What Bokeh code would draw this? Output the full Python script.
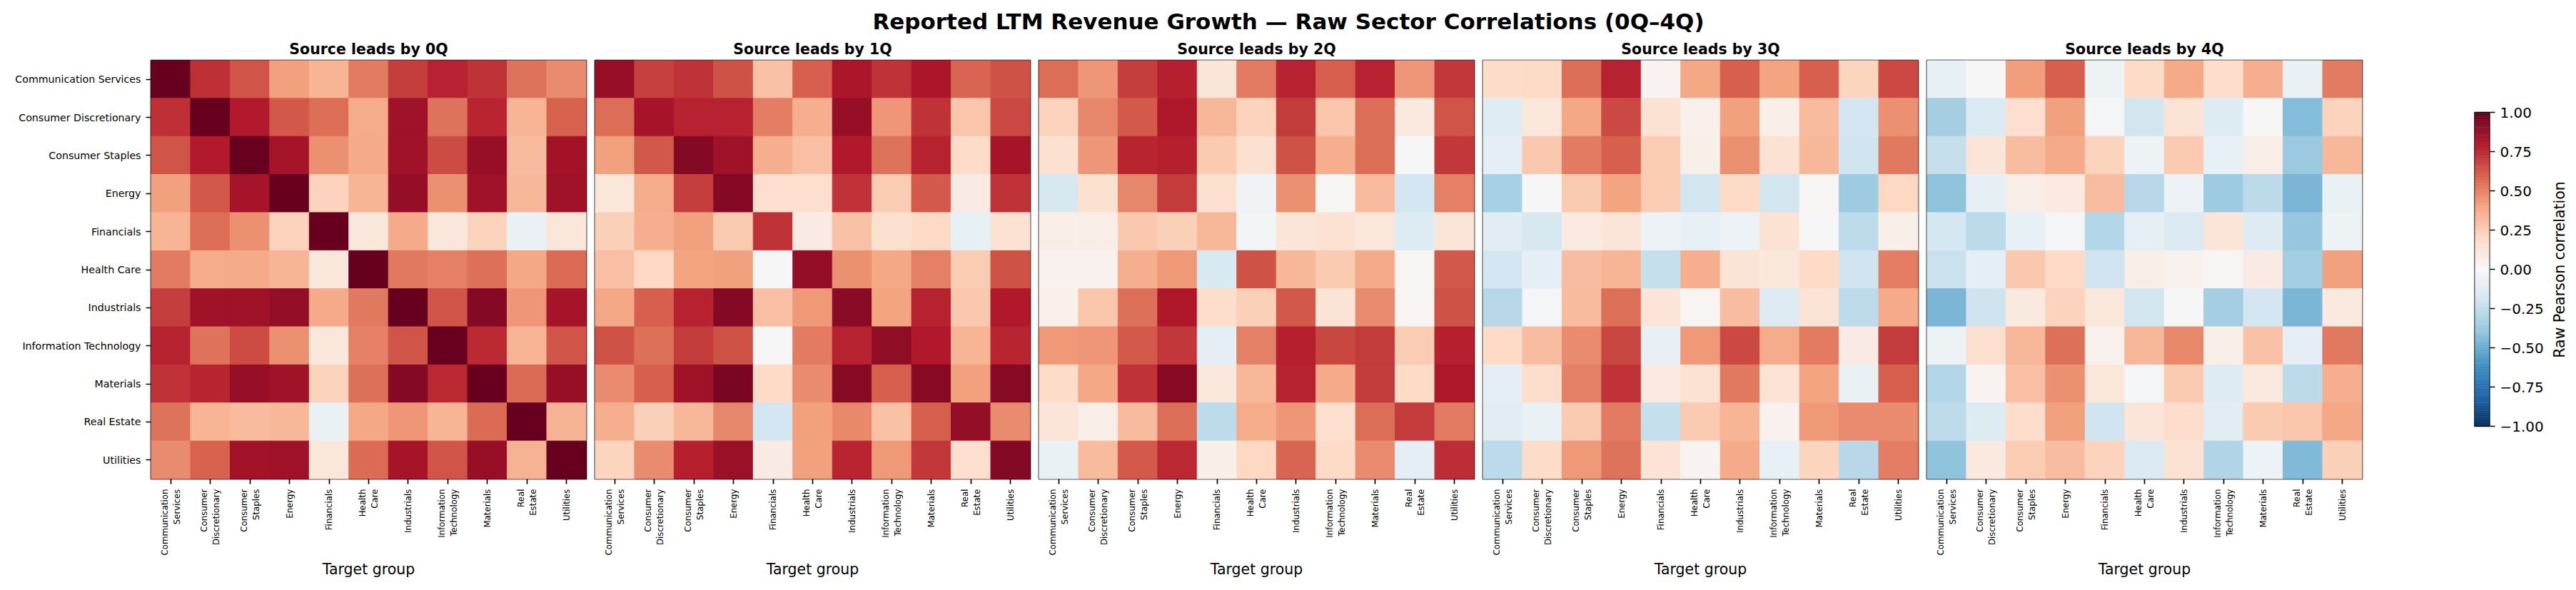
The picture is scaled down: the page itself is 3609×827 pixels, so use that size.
import json
import numpy as np
from bokeh.plotting import figure
from bokeh.models import (FactorRange, Range1d, ColumnDataSource, LinearColorMapper,
                          FixedTicker, CustomJSTickFormatter)
from bokeh.layouts import row, column
from bokeh.transform import transform
from bokeh.core.properties import value
from bokeh.embed import file_html
from bokeh.resources import INLINE

# ---------------------------------------------------------------- data
sectors = [
    "Communication Services", "Consumer Discretionary", "Consumer Staples",
    "Energy", "Financials", "Health Care", "Industrials",
    "Information Technology", "Materials", "Real Estate", "Utilities",
]
sector_tick_labels = [
    "Communication\nServices", "Consumer\nDiscretionary", "Consumer\nStaples",
    "Energy", "Financials", "Health\nCare", "Industrials",
    "Information\nTechnology", "Materials", "Real\nEstate", "Utilities",
]
lead_lags = ["0Q", "1Q", "2Q", "3Q", "4Q"]

# rows = source sector, columns = target sector
corr_0q = [
    [1.00, 0.73, 0.63, 0.41, 0.34, 0.52, 0.69, 0.77, 0.72, 0.54, 0.47],
    [0.73, 1.00, 0.79, 0.62, 0.56, 0.37, 0.85, 0.54, 0.76, 0.34, 0.59],
    [0.63, 0.79, 1.00, 0.83, 0.46, 0.38, 0.85, 0.65, 0.87, 0.32, 0.84],
    [0.41, 0.62, 0.83, 1.00, 0.23, 0.34, 0.88, 0.46, 0.85, 0.33, 0.85],
    [0.34, 0.56, 0.46, 0.23, 1.00, 0.11, 0.38, 0.11, 0.23, -0.07, 0.12],
    [0.52, 0.37, 0.38, 0.34, 0.11, 1.00, 0.53, 0.50, 0.55, 0.39, 0.57],
    [0.69, 0.85, 0.85, 0.88, 0.38, 0.53, 1.00, 0.63, 0.92, 0.44, 0.83],
    [0.77, 0.54, 0.65, 0.46, 0.11, 0.50, 0.63, 1.00, 0.75, 0.34, 0.63],
    [0.72, 0.76, 0.87, 0.85, 0.23, 0.55, 0.92, 0.75, 1.00, 0.57, 0.87],
    [0.54, 0.34, 0.32, 0.33, -0.07, 0.39, 0.44, 0.34, 0.57, 1.00, 0.35],
    [0.47, 0.59, 0.84, 0.85, 0.12, 0.57, 0.83, 0.63, 0.87, 0.35, 1.00],
]
corr_1q = [
    [0.87, 0.68, 0.72, 0.64, 0.29, 0.60, 0.82, 0.72, 0.82, 0.58, 0.64],
    [0.56, 0.83, 0.77, 0.77, 0.51, 0.36, 0.87, 0.44, 0.72, 0.28, 0.66],
    [0.41, 0.62, 0.92, 0.85, 0.36, 0.30, 0.80, 0.54, 0.77, 0.19, 0.83],
    [0.12, 0.37, 0.69, 0.92, 0.17, 0.17, 0.72, 0.25, 0.61, 0.08, 0.72],
    [0.24, 0.36, 0.41, 0.26, 0.72, 0.08, 0.29, 0.16, 0.20, -0.08, 0.15],
    [0.30, 0.21, 0.40, 0.41, 0.00, 0.88, 0.46, 0.39, 0.50, 0.25, 0.64],
    [0.39, 0.60, 0.77, 0.92, 0.30, 0.43, 0.90, 0.40, 0.77, 0.27, 0.80],
    [0.64, 0.55, 0.70, 0.64, 0.00, 0.52, 0.77, 0.89, 0.80, 0.34, 0.76],
    [0.47, 0.60, 0.85, 0.95, 0.20, 0.47, 0.91, 0.60, 0.91, 0.41, 0.91],
    [0.36, 0.24, 0.33, 0.49, -0.18, 0.41, 0.48, 0.29, 0.60, 0.88, 0.47],
    [0.22, 0.47, 0.78, 0.86, 0.08, 0.41, 0.76, 0.43, 0.71, 0.17, 0.92],
]
corr_2q = [
    [0.56, 0.44, 0.69, 0.78, 0.13, 0.52, 0.77, 0.60, 0.77, 0.44, 0.71],
    [0.23, 0.49, 0.61, 0.81, 0.33, 0.23, 0.70, 0.28, 0.56, 0.10, 0.63],
    [0.16, 0.44, 0.76, 0.78, 0.26, 0.16, 0.64, 0.36, 0.56, 0.00, 0.71],
    [-0.17, 0.16, 0.49, 0.70, 0.16, -0.045, 0.46, 0.01, 0.32, -0.18, 0.50],
    [0.07, 0.07, 0.27, 0.24, 0.33, -0.025, 0.13, 0.15, 0.12, -0.14, 0.13],
    [0.04, 0.04, 0.36, 0.43, -0.16, 0.64, 0.33, 0.26, 0.38, 0.02, 0.62],
    [0.05, 0.28, 0.55, 0.81, 0.18, 0.24, 0.62, 0.14, 0.47, 0.02, 0.64],
    [0.43, 0.44, 0.61, 0.71, -0.10, 0.50, 0.78, 0.67, 0.70, 0.25, 0.78],
    [0.19, 0.39, 0.72, 0.91, 0.11, 0.33, 0.77, 0.38, 0.70, 0.20, 0.81],
    [0.13, 0.07, 0.32, 0.56, -0.26, 0.37, 0.44, 0.17, 0.56, 0.70, 0.52],
    [-0.065, 0.32, 0.61, 0.75, 0.06, 0.21, 0.58, 0.20, 0.47, -0.10, 0.74],
]
corr_3q = [
    [0.19, 0.20, 0.56, 0.77, 0.03, 0.39, 0.60, 0.40, 0.60, 0.22, 0.66],
    [-0.12, 0.12, 0.39, 0.66, 0.15, 0.05, 0.41, 0.06, 0.32, -0.18, 0.46],
    [-0.10, 0.27, 0.52, 0.60, 0.25, 0.06, 0.46, 0.15, 0.33, -0.20, 0.53],
    [-0.33, 0.00, 0.26, 0.40, 0.25, -0.19, 0.20, -0.19, 0.01, -0.36, 0.21],
    [-0.115, -0.17, 0.09, 0.13, -0.055, -0.085, -0.06, 0.15, 0.00, -0.26, 0.06],
    [-0.18, -0.10, 0.31, 0.34, -0.235, 0.36, 0.14, 0.11, 0.20, -0.20, 0.51],
    [-0.28, -0.02, 0.32, 0.55, 0.13, 0.02, 0.31, -0.13, 0.14, -0.26, 0.38],
    [0.20, 0.31, 0.47, 0.67, -0.08, 0.43, 0.66, 0.37, 0.52, 0.08, 0.70],
    [-0.10, 0.18, 0.50, 0.72, 0.09, 0.15, 0.53, 0.14, 0.40, -0.065, 0.60],
    [-0.115, -0.07, 0.26, 0.52, -0.24, 0.26, 0.34, 0.04, 0.43, 0.47, 0.47],
    [-0.27, 0.19, 0.43, 0.54, 0.14, 0.03, 0.38, -0.08, 0.22, -0.28, 0.51],
]
corr_4q = [
    [-0.08, 0.00, 0.42, 0.60, -0.05, 0.20, 0.38, 0.18, 0.36, -0.065, 0.52],
    [-0.34, -0.15, 0.17, 0.41, -0.02, -0.19, 0.14, -0.14, 0.00, -0.43, 0.23],
    [-0.24, 0.13, 0.31, 0.38, 0.23, -0.05, 0.26, -0.08, 0.07, -0.37, 0.33],
    [-0.40, -0.09, 0.07, 0.09, 0.31, -0.28, -0.055, -0.365, -0.27, -0.46, -0.065],
    [-0.175, -0.27, -0.08, -0.02, -0.29, -0.09, -0.145, 0.13, -0.13, -0.39, -0.05],
    [-0.225, -0.10, 0.27, 0.20, -0.20, 0.07, 0.04, 0.01, 0.08, -0.35, 0.41],
    [-0.46, -0.21, 0.10, 0.23, 0.12, -0.19, 0.00, -0.34, -0.18, -0.46, 0.10],
    [-0.05, 0.17, 0.33, 0.55, 0.04, 0.33, 0.48, 0.06, 0.29, -0.10, 0.53],
    [-0.29, 0.03, 0.30, 0.46, 0.12, -0.02, 0.26, -0.13, 0.10, -0.27, 0.36],
    [-0.26, -0.14, 0.18, 0.41, -0.20, 0.13, 0.18, -0.115, 0.26, 0.28, 0.39],
    [-0.40, 0.10, 0.25, 0.31, 0.23, -0.145, 0.15, -0.30, -0.055, -0.44, 0.24],
]
panel_matrices = [corr_0q, corr_1q, corr_2q, corr_3q, corr_4q]

cbar_ticks = [-1.0, -0.75, -0.5, -0.25, 0.0, 0.25, 0.5, 0.75, 1.0]

# ---------------------------------------------------------------- styling
FONT = "DejaVu Sans"
TOTAL_W = 3609
HEAD_H = 48
FRAME_W, FRAME_H = 610, 587
LEFT0, GAP, RIGHT = 211, 10, 2
TOP, BOTTOM = 36, 156
INK = "#000000"

# diverging red/blue palette, blue at -1, white at 0, dark red at +1
rdbu_anchors = ["#053061", "#2166ac", "#4393c3", "#92c5de", "#d1e5f0", "#f7f7f7",
                "#fddbc7", "#f4a582", "#d6604d", "#b2182b", "#67001f"]


def build_palette(anchors, n=256):
    rgb = np.array([[int(h[k:k + 2], 16) for k in (1, 3, 5)] for h in anchors], float)
    pos = np.linspace(0.0, 1.0, len(anchors))
    t = np.linspace(0.0, 1.0, n)
    chans = [np.interp(t, pos, rgb[:, c]) for c in range(3)]
    return ["#%02x%02x%02x" % tuple(int(round(ch[i])) for ch in chans) for i in range(n)]


palette = build_palette(rdbu_anchors)
mapper = LinearColorMapper(palette=palette, low=-1.0, high=1.0)

# two-line category names on the x axis
tick_label_js = ("const m = %s; return (tick in m) ? m[tick] : tick;"
                 % json.dumps(dict(zip(sectors, sector_tick_labels))))


def style_ticks(ax):
    ax.axis_line_color = None
    ax.major_tick_out = 7
    ax.major_tick_in = 0
    ax.minor_tick_out = 0
    ax.minor_tick_in = 0
    ax.major_tick_line_width = 1.7
    ax.major_tick_line_color = INK
    ax.major_label_standoff = 7
    ax.major_label_text_font = FONT
    ax.major_label_text_color = INK


def make_panel(idx, lag, matrix):
    src, tgt, vals = [], [], []
    for r, s in enumerate(sectors):
        for c, t in enumerate(sectors):
            src.append(s)
            tgt.append(t)
            vals.append(matrix[r][c])
    cds = ColumnDataSource(dict(source=src, target=tgt, value=vals))

    first = idx == 0
    p = figure(x_range=FactorRange(*sectors), y_range=FactorRange(*reversed(sectors)),
               frame_width=FRAME_W, frame_height=FRAME_H,
               min_border_left=LEFT0 if first else GAP, min_border_right=RIGHT,
               min_border_top=TOP, min_border_bottom=BOTTOM,
               toolbar_location=None, tools="", output_backend="svg",
               background_fill_color="white", border_fill_color="white")
    p.rect(x="target", y="source", width=1, height=1, source=cds,
           fill_color=transform("value", mapper),
           line_color=transform("value", mapper), line_width=1)

    p.title.text = f"Source leads by {lag}"
    p.title.align = "center"
    p.title.text_font = FONT
    p.title.text_font_size = "20.5px"
    p.title.text_font_style = "bold"
    p.title.text_color = INK
    p.title.standoff = 7

    p.grid.visible = False
    p.outline_line_color = INK
    p.outline_line_width = 1.7
    p.outline_line_alpha = 1.0

    style_ticks(p.xaxis[0])
    style_ticks(p.yaxis[0])

    p.xaxis.major_label_orientation = np.pi / 2
    p.xaxis.formatter = CustomJSTickFormatter(code=tick_label_js)
    p.xaxis.major_label_text_font_size = "11.8px"
    p.xaxis.major_label_text_line_height = 1.2
    p.xaxis.axis_label = "Target group"
    p.xaxis.axis_label_text_font = FONT
    p.xaxis.axis_label_text_font_size = "20.5px"
    p.xaxis.axis_label_text_font_style = "normal"
    p.xaxis.axis_label_text_color = INK
    p.xaxis.axis_label_standoff = 5

    if first:
        p.yaxis.major_label_text_font_size = "14.2px"
    else:
        p.yaxis.visible = False
    return p


panels = [make_panel(i, lag, m) for i, (lag, m) in enumerate(zip(lead_lags, panel_matrices))]

# ---------------------------------------------------------------- colour bar
# shares the panels' frame height; the bar spans 440 px of it, 73 px below the frame top
CB_LEFT, CB_W, CB_RIGHT = 155, 22, 78
CB_BAR_PX, CB_TOP_GAP = 440, 73
per_px = 2.0 / CB_BAR_PX
cb_top = 1.0 + CB_TOP_GAP * per_px
cb_bottom = -1.0 - (FRAME_H - CB_TOP_GAP - CB_BAR_PX) * per_px
cb = figure(x_range=Range1d(0, 1), y_range=Range1d(cb_bottom, cb_top),
            frame_width=CB_W, frame_height=FRAME_H,
            min_border_left=CB_LEFT, min_border_right=CB_RIGHT,
            min_border_top=TOP, min_border_bottom=BOTTOM,
            x_axis_location=None, y_axis_location="right",
            toolbar_location=None, tools="", output_backend="svg",
            outline_line_color=None,
            background_fill_color="white", border_fill_color="white")
edges = np.linspace(-1.0, 1.0, len(palette) + 1)
cb.quad(left=0, right=1, bottom=edges[:-1], top=edges[1:],
        fill_color=palette, line_color=palette, line_width=0.5)
cb.quad(left=[0], right=[1], bottom=[-1.0], top=[1.0], fill_color=None,
        line_color=INK, line_width=1.7)
cb.grid.visible = False
style_ticks(cb.yaxis[0])
cb.yaxis.ticker = FixedTicker(ticks=cbar_ticks)
cb.yaxis.formatter = CustomJSTickFormatter(
    code="return (tick < 0 ? '\u2212' : '') + Math.abs(tick).toFixed(2);")
cb.yaxis.major_label_text_font_size = "20px"

# colour-bar title: a left-side title (read bottom to top, centred on the frame)
# of a narrow companion plot placed just right of the tick labels
CBT_LEFT = 34
CBT_W = TOTAL_W - (LEFT0 + 5 * FRAME_W + 4 * GAP + 5 * RIGHT
                   + CB_LEFT + CB_W + CB_RIGHT + CBT_LEFT)
cb_title = figure(x_range=Range1d(0, 1), y_range=Range1d(cb_bottom, cb_top),
                  frame_width=CBT_W, frame_height=FRAME_H,
                  min_border_left=CBT_LEFT, min_border_right=0,
                  min_border_top=TOP, min_border_bottom=BOTTOM,
                  x_axis_location=None, y_axis_location=None,
                  title="Raw Pearson correlation", title_location="left",
                  toolbar_location=None, tools="", output_backend="svg",
                  outline_line_color=None,
                  background_fill_color="white", border_fill_color="white")
cb_title.grid.visible = False
cb_title.title.align = "center"
cb_title.title.text_font = FONT
cb_title.title.text_font_size = "20.5px"
cb_title.title.text_font_style = "normal"
cb_title.title.text_color = INK
cb_title.title.standoff = 5

# ---------------------------------------------------------------- headline
head = figure(width=TOTAL_W, height=HEAD_H, x_range=Range1d(0, 1), y_range=Range1d(0, HEAD_H),
              x_axis_location=None, y_axis_location=None, min_border=0,
              toolbar_location=None, tools="", output_backend="svg",
              outline_line_color=None, background_fill_color="white", border_fill_color="white")
head.grid.visible = False
head.text(x=[0.5], y=[HEAD_H - 29], text=["Reported LTM Revenue Growth \u2014 Raw Sector Correlations (0Q\u20134Q)"],
          text_align="center", text_baseline="middle", text_font=value(FONT),
          text_font_size="31px", text_font_style="bold", text_color=INK)

layout = column(head, row(*panels, cb, cb_title, spacing=0), spacing=0)

with open("out.html", "w") as f:
    f.write(file_html(layout, INLINE))
